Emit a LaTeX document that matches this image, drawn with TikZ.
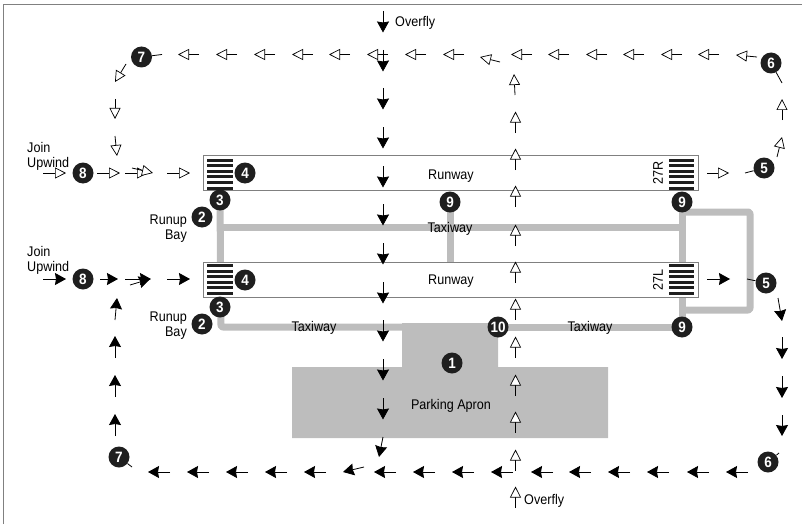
\documentclass[tikz,border=0pt]{standalone}
\usepackage{fontspec}
\setmainfont{Liberation Sans}[FakeStretch=0.9]
\usetikzlibrary{arrows.meta,positioning,backgrounds}
\definecolor{paved}{gray}{0.74}
\definecolor{frameline}{gray}{0.5}
\definecolor{badge}{gray}{0.12}
\tikzstyle{fly}=[line width=0.8pt]
\tikzstyle{solidfly}=[fly,-{Stealth[inset=1pt,length=11pt,width=12pt]}]
\tikzstyle{openfly}=[fly,-{Triangle[fill=white,length=11pt,width=11pt,line width=0.7pt]}]
\tikzstyle{stub}=[line width=0.8pt]

\begin{document}
\begin{tikzpicture}[
        x=1pt,y=-1pt,
        font=\fontsize{14}{15}\selectfont,
        num/.style={circle,fill=badge,text=white,minimum size=21pt,inner sep=0pt,font=\fontsize{15}{15}\selectfont\bfseries},
        runway/.style={draw=frameline,fill=white,line width=1pt,minimum width=495pt,minimum height=35pt,inner sep=0pt},
        taxi/.style={draw=paved,line width=7pt,line join=round},
        bar/.style={fill=badge,minimum height=3pt,inner sep=0pt},
        side/.style={inner sep=0pt,font=\fontsize{14}{15}\selectfont}
        ]
        \useasboundingbox (0,0) rectangle (802,524);
        \draw[frameline,line width=1pt] (3.5,524) -- (3.5,4.5) -- (802,4.5);

        % runways
        \node[runway] (r1) at (450.5,173) {};
        \node[runway] (r2) at (450.5,279.5) {};
        \foreach \y [count=\i] in {160,165.6,171.2,176.8,182.4,188} {
            \node[bar,minimum width=26pt] (ba\i) at (220,\y) {};
            \node[bar,minimum width=25pt] (bb\i) at (681.5,\y) {};
        }
        \foreach \y [count=\i] in {265.5,271.1,276.7,282.3,287.9,293.5} {
            \node[bar,minimum width=26pt] (bc\i) at (220,\y) {};
            \node[bar,minimum width=25pt] (bd\i) at (681.5,\y) {};
        }

        \node[num] (n1) at (452,363) {1};
        \node[num] (n2a) at (202,217) {2};
        \node[num] (n2b) at (202,324) {2};
        \node[num] (n3a) at (220,200) {3};
        \node[num] (n3b) at (220,307) {3};
        \node[num] (n4a) at (245,173) {4};
        \node[num] (n4b) at (245,280) {4};
        \node[num] (n5a) at (764,168) {5};
        \node[num] (n5b) at (766,283) {5};
        \node[num] (n6a) at (771,63) {6};
        \node[num] (n6b) at (768,462) {6};
        \node[num] (n7a) at (141.5,57) {7};
        \node[num] (n7b) at (119,457) {7};
        \node[num] (n8a) at (83,173) {8};
        \node[num] (n8b) at (83,279) {8};
        \node[num] (n9a) at (450,202) {9};
        \node[num] (n9b) at (682,202) {9};
        \node[num] (n9c) at (682,327) {9};
        \node[num] (n10) at (498,327) {10};

        % paved areas go underneath
        \begin{scope}[on background layer]
            \fill[paved] (292,367) -- (402,367) -- (402,323) -- (498,323) -- (498,367) -- (608,367) -- (608,438) -- (292,438) -- cycle;
            \coordinate (tw1) at (221,227);
            \coordinate (tw2) at (682,227);
            \coordinate (tw3) at (221,327);
            \coordinate (tw4) at (450,262);
            \coordinate (tw5) at (750,212);
            \coordinate (tw6) at (750,310);
            \coordinate (tw7) at (682,212);
            \coordinate (tw8) at (682,310);
            \draw[taxi] (tw1) -- (tw2);
            \draw[taxi,rounded corners=2pt] (n3a.center) -- (tw3) -- (n10.center);
            \draw[taxi] (n10.center) -- (n9c.center);
            \draw[taxi] (n9a.center) -- (tw4);
            \draw[taxi] (n9b.center) -- (n9c.center);
            \draw[taxi,rounded corners=2pt] (tw7) -- (tw5) -- (tw6) -- (tw8);
        \end{scope}

        % labels
        \node (ra) at (451,176) {Runway};
        \node (rb) at (451,281) {Runway};
        \node[rotate=90] (e27r) at (658,173) {27R};
        \node[rotate=90] (e27l) at (658,280) {27L};
        \node (ta) at (450,229) {Taxiway};
        \node (tb) at (314,328) {Taxiway};
        \node (tc) at (590,328) {Taxiway};
        \node (apron) at (451,406) {Parking Apron};
        \node[side,anchor=west] (of1) at (395,22.5) {Overfly};
        \node[side,anchor=west] (of2) at (524,501) {Overfly};
        \node[side,align=left,anchor=west] (ja) at (27,156.5) {Join\\Upwind};
        \node[side,align=left,anchor=west] (jb) at (27,260.5) {Join\\Upwind};
        \node[side,align=right,anchor=east] (ba) at (187,228.5) {Runup\\Bay};
        \node[side,align=right,anchor=east] (bb) at (187,325.5) {Runup\\Bay};

        % straight arrows
        \foreach \x [count=\i] in {178,216,254,292,329,367,405,443,511,548,586,623,661,698} {
            \coordinate (wa\i) at (\x+21,54.5);
            \coordinate (wb\i) at (\x,54.5);
            \draw[openfly] (wa\i) -- (wb\i);
        }
        \foreach \x [count=\i] in {148,187,226,265,304,374,413,452,491,531,569,608,647,687,726} {
            \coordinate (ea\i) at (\x+22,472);
            \coordinate (eb\i) at (\x,472);
            \draw[solidfly] (ea\i) -- (eb\i);
        }
        \foreach \y [count=\i] in {11,50,88,127,166,204,243,282,320,359,398} {
            \coordinate (da\i) at (383,\y);
            \coordinate (db\i) at (383,\y+21.5);
            \draw[solidfly] (da\i) -- (db\i);
        }
        \foreach \y [count=\i] in {133,170,207,246,283,320,358,396,433,471,508} {
            \coordinate (ua\i) at (515.5,\y);
            \coordinate (ub\i) at (515.5,\y-21.5);
            \draw[openfly] (ua\i) -- (ub\i);
        }
        % the ones that turn or stand apart
        \foreach \xa/\ya/\xb/\yb [count=\i] in {
            43/173/66/173,97/173/120/173,125/173/148/173,132/168/153/173,167/173/190/173,707/173/729/173,
            115/99/115/119,115/136/117/156,126/64/115/82,500/62/480/57,515/95/514/74,782/120/782/99,777/157/782/137,757/57/736/55} {
            \coordinate (oa\i) at (\xa,\ya);
            \coordinate (ob\i) at (\xb,\yb);
            \draw[openfly] (oa\i) -- (ob\i);
        }
        \foreach \xa/\ya/\xb/\yb [count=\i] in {
            43/279/66/279,100/279/118/279,125/279/151/279,130/285/150/279,167/279/190/279,707/279/730/279,
            115/436/115/414,115/397/115/375,115/358/115/336,115/320/117/298,
            778/298/782/321,782/337/782/359,782/376/782/398,782/415/782/436,
            383/437/379/457,364/467/343/472} {
            \coordinate (sa\i) at (\xa,\ya);
            \coordinate (sb\i) at (\xb,\yb);
            \draw[solidfly] (sa\i) -- (sb\i);
        }

        % stubs leaving the badges
        \coordinate (s7a) at (162,54.5);
        \coordinate (s7b) at (132,467);
        \coordinate (s6a) at (782,83);
        \coordinate (s6b) at (779,453);
        \coordinate (s5a) at (745,173);
        \coordinate (s5b) at (747,279);
        \draw[stub] (n7a) -- (s7a);
        \draw[stub] (n7b) -- (s7b);
        \draw[stub] (n6a) -- (s6a);
        \draw[stub] (n6b) -- (s6b);
        \draw[stub] (n5a) -- (s5a);
        \draw[stub] (n5b) -- (s5b);
    \end{tikzpicture}
\end{document}
